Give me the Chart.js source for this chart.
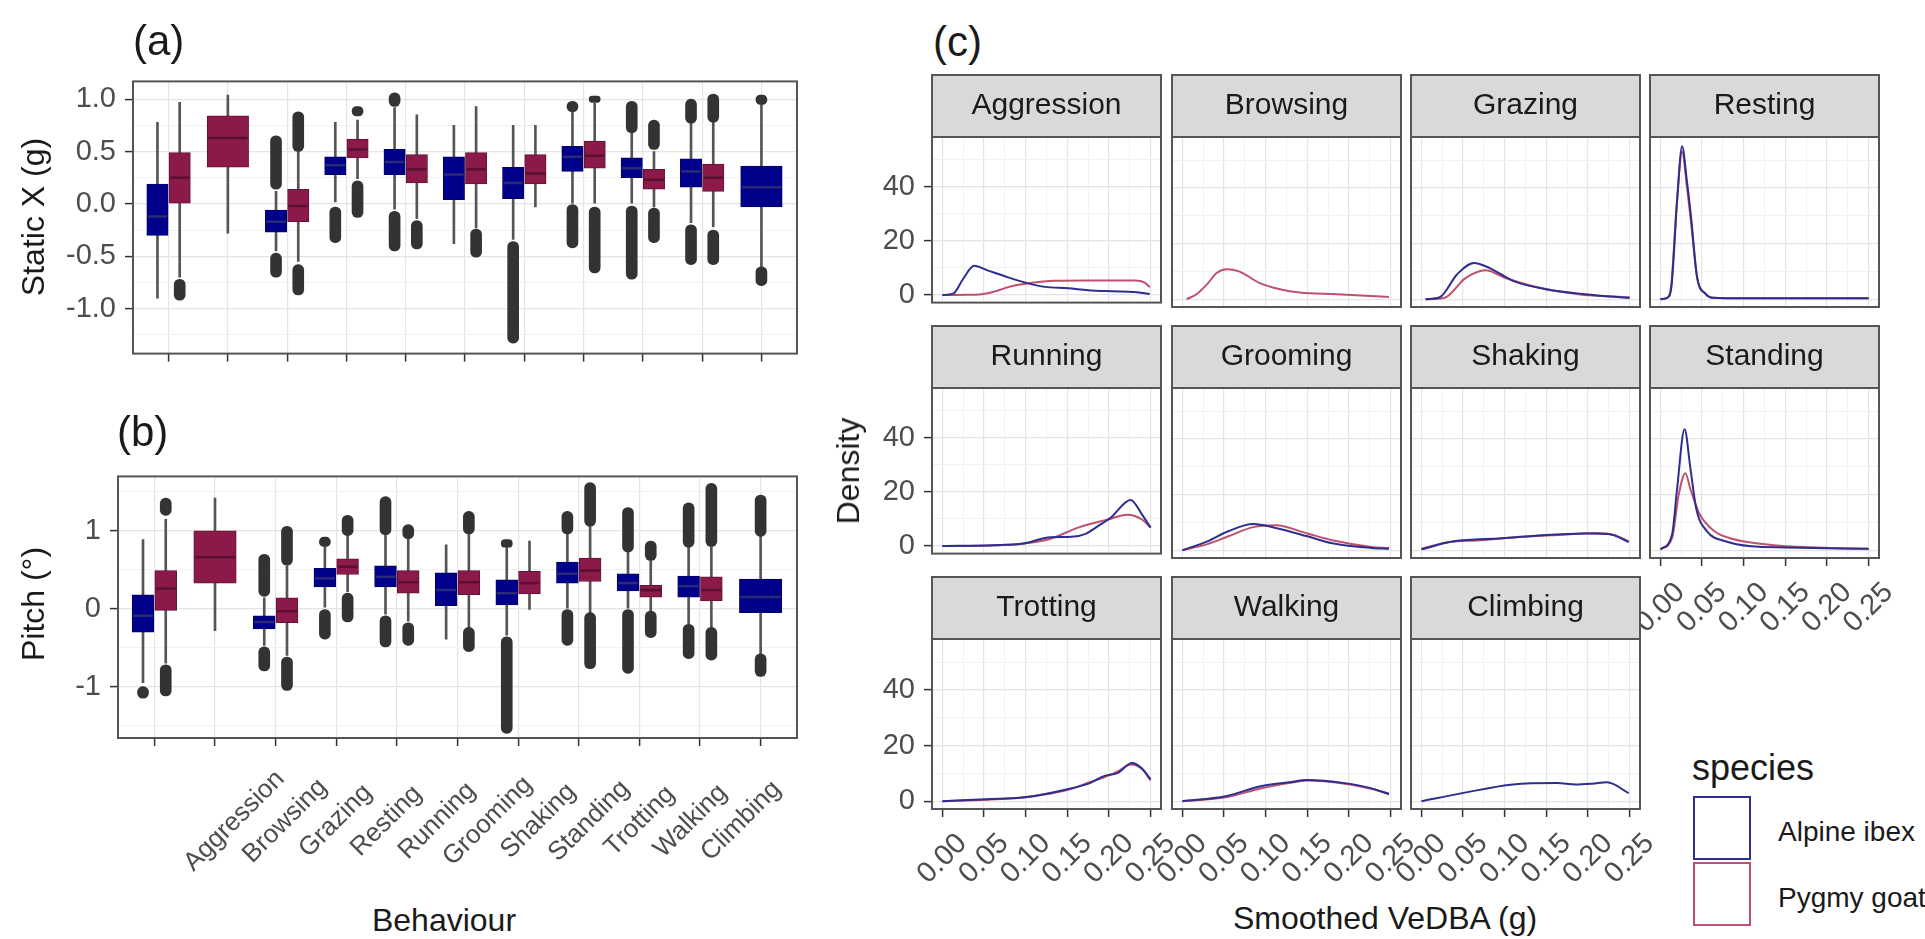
<!DOCTYPE html>
<html>
<head>
<meta charset="utf-8">
<script src="https://cdn.jsdelivr.net/npm/chart.js@4.4.1/dist/chart.umd.min.js"></script>
<style>
  body { margin: 0; background: #fff; }
  #fig { position: relative; width: 1925px; height: 939px; overflow: hidden; font-family: "Liberation Sans", Arial, sans-serif; }
  #fig canvas { position: absolute; }
  .t { position: absolute; white-space: nowrap; line-height: 1; color: #1a1a1a; }
</style>
</head>
<body>
<div id="fig"></div>
<script>
const behaviours = ["Aggression", "Browsing", "Grazing", "Resting", "Running", "Grooming",
  "Shaking", "Standing", "Trotting", "Walking", "Climbing"];
const species = ["Alpine ibex", "Pygmy goat"];

// (a) Static X (g): [lower whisker, q1, median, q3, upper whisker], null = not recorded
const staticIbex = [[-0.90, -0.30, -0.12, 0.19, 0.78], null, [-0.45, -0.27, -0.17, -0.06, 0.12],
  [0.02, 0.28, 0.37, 0.45, 0.78], [-0.05, 0.28, 0.40, 0.52, 0.92], [-0.38, 0.04, 0.28, 0.45, 0.75],
  [-0.34, 0.05, 0.20, 0.35, 0.75], [0.00, 0.31, 0.45, 0.55, 0.88], [0.00, 0.25, 0.34, 0.44, 0.68],
  [-0.18, 0.16, 0.31, 0.43, 0.77], [-0.60, -0.03, 0.16, 0.36, 0.96]];
const staticGoat = [[-0.70, 0.00, 0.25, 0.49, 0.97], [-0.28, 0.35, 0.63, 0.84, 1.04],
  [-0.55, -0.17, -0.02, 0.14, 0.50], [0.24, 0.44, 0.52, 0.62, 0.80], [-0.14, 0.20, 0.33, 0.47, 0.85],
  [-0.23, 0.19, 0.33, 0.49, 0.93], [-0.03, 0.19, 0.29, 0.47, 0.75], [0.00, 0.34, 0.46, 0.60, 0.96],
  [-0.03, 0.14, 0.23, 0.33, 0.50], [-0.22, 0.12, 0.25, 0.38, 0.78], null];
// outliers are heavily overplotted, so they are kept as runs [from, to]
const staticIbexOut = [[], [], [[-0.70, -0.47], [0.14, 0.65]], [[-0.37, -0.03]], [[0.93, 1.06], [-0.45, -0.07]],
  [], [[-1.33, -0.36]], [[0.88, 0.98], [-0.42, 0.00]], [[0.68, 0.98], [-0.72, -0.02]],
  [[0.77, 1.00], [-0.58, -0.20]], [[0.95, 1.04], [-0.78, -0.60]]];
const staticGoatOut = [[[-0.92, -0.72]], [], [[0.50, 0.88], [-0.87, -0.58]], [[0.84, 0.93], [-0.13, 0.22]],
  [[-0.43, -0.16]], [[-0.51, -0.24]], [], [[0.97, 1.03], [-0.66, -0.03]], [[0.52, 0.80], [-0.37, -0.04]],
  [[0.78, 1.05], [-0.58, -0.25]], []];

// (b) Pitch
const pitchIbex = [[-0.95, -0.30, -0.09, 0.18, 0.89], null, [-0.47, -0.26, -0.17, -0.09, 0.14],
  [0.02, 0.28, 0.39, 0.52, 0.80], [-0.07, 0.28, 0.41, 0.55, 0.95], [-0.39, 0.04, 0.24, 0.46, 0.82],
  [-0.34, 0.05, 0.20, 0.37, 0.79], [0.00, 0.33, 0.45, 0.60, 0.96], [0.00, 0.23, 0.33, 0.45, 0.73],
  [-0.20, 0.15, 0.29, 0.42, 0.79], [-0.58, -0.05, 0.15, 0.38, 0.93]];
const pitchGoat = [[-0.70, -0.02, 0.26, 0.49, 1.15], [-0.28, 0.33, 0.66, 1.00, 1.42],
  [-0.60, -0.18, -0.03, 0.14, 0.55], [0.22, 0.44, 0.54, 0.64, 0.95], [-0.16, 0.20, 0.34, 0.49, 0.90],
  [-0.24, 0.18, 0.34, 0.49, 0.96], [-0.01, 0.19, 0.33, 0.48, 0.87], [-0.05, 0.35, 0.49, 0.65, 1.06],
  [-0.03, 0.15, 0.24, 0.30, 0.62], [-0.24, 0.10, 0.24, 0.41, 0.80], null];
const pitchIbexOut = [[[-1.15, -1.00]], [], [[0.16, 0.70], [-0.80, -0.49]], [[0.80, 0.92], [-0.39, -0.01]],
  [[0.95, 1.44], [-0.49, -0.09]], [], [[0.79, 0.89], [-1.60, -0.36]], [[0.96, 1.25], [-0.47, -0.01]],
  [[0.73, 1.30], [-0.83, -0.01]], [[0.79, 1.36], [-0.64, -0.20]], [[0.93, 1.46], [-0.87, -0.58]]];
const pitchGoatOut = [[[1.20, 1.42], [-1.12, -0.72]], [], [[0.56, 1.06], [-1.05, -0.62]], [[0.94, 1.20], [-0.17, 0.20]],
  [[0.90, 1.08], [-0.47, -0.18]], [[0.96, 1.25], [-0.55, -0.24]], [], [[1.06, 1.62], [-0.77, -0.05]],
  [[0.62, 0.87], [-0.37, -0.03]], [[0.80, 1.61], [-0.66, -0.24]], []];

const staticTicks = [-1, -0.5, 0, 0.5, 1];
const pitchTicks = [-1, 0, 1];
const densityTicks = [0, 20, 40];
const vedbaTicks = [0, 0.05, 0.1, 0.15, 0.2, 0.25];

// (c) density of smoothed VeDBA, [VeDBA, density]
const aggressionIbex = [[0, 0], [0.013, 0.5], [0.025, 6], [0.038, 10.8], [0.055, 9], [0.079, 6.5], [0.103, 4.3],
  [0.123, 3], [0.151, 2.5], [0.175, 1.8], [0.203, 1.4], [0.231, 1.1], [0.249, 0.4]];
const aggressionGoat = [[0, 0], [0.03, 0.1], [0.047, 0.3], [0.065, 1.5], [0.079, 2.9], [0.103, 4.3], [0.135, 5.3],
  [0.175, 5.4], [0.231, 5.4], [0.243, 4.6], [0.249, 2.9]];
const browsingGoat = [[0.005, 0], [0.017, 1.8], [0.03, 5.5], [0.041, 9.4], [0.053, 10.8], [0.068, 10], [0.093, 5.8],
  [0.117, 3.6], [0.141, 2.4], [0.185, 1.8], [0.22, 1.2], [0.248, 0.8]];
const grazingIbex = [[0.005, 0], [0.022, 0.7], [0.043, 9], [0.063, 13], [0.082, 11.2], [0.111, 6.5], [0.149, 3.6],
  [0.197, 1.8], [0.25, 0.4]];
const grazingGoat = [[0.005, 0], [0.027, 0.4], [0.053, 7.6], [0.077, 10.4], [0.101, 7.6], [0.139, 4.3], [0.188, 1.8],
  [0.25, 0.7]];
const restingIbex = [[0, 0], [0.008, 0.5], [0.013, 4], [0.02, 35], [0.026, 55], [0.032, 42], [0.037, 29], [0.044, 8],
  [0.054, 2], [0.063, 0.5], [0.1, 0.3], [0.25, 0.3]];
const restingGoat = [[0, 0], [0.008, 0.5], [0.013, 5], [0.02, 36], [0.026, 53], [0.032, 40], [0.037, 27], [0.044, 8],
  [0.054, 2], [0.063, 0.5], [0.1, 0.3], [0.25, 0.3]];
const runningIbex = [[0, 0], [0.06, 0.3], [0.095, 0.8], [0.13, 3.2], [0.155, 3.4], [0.172, 4.5], [0.185, 7],
  [0.202, 10.4], [0.226, 17], [0.24, 11.5], [0.25, 6.8]];
const runningGoat = [[0, 0], [0.06, 0.2], [0.095, 0.8], [0.13, 2.7], [0.163, 6.8], [0.198, 9.7], [0.222, 11.5],
  [0.24, 9.7], [0.25, 6.8]];
const groomingIbex = [[0, 0], [0.03, 3.2], [0.055, 6.8], [0.085, 9.4], [0.112, 8], [0.15, 5], [0.18, 2.5],
  [0.227, 0.8], [0.248, 0.5]];
const groomingGoat = [[0, 0], [0.03, 2.2], [0.055, 5], [0.085, 8.3], [0.112, 9], [0.15, 6], [0.18, 3.6],
  [0.227, 1.2], [0.248, 0.8]];
const shakingIbex = [[0, 0.3], [0.039, 3.2], [0.097, 4.3], [0.145, 5.4], [0.198, 6], [0.225, 5.8], [0.249, 2.9]];
const shakingGoat = [[0, 0.5], [0.03, 2.8], [0.07, 3.6], [0.12, 4.8], [0.17, 5.6], [0.21, 6.2], [0.232, 5.4],
  [0.249, 3.2]];
const standingIbex = [[0, 0.3], [0.014, 5.6], [0.02, 22], [0.029, 43.5], [0.036, 29.5], [0.043, 15], [0.056, 6.8],
  [0.078, 3.2], [0.109, 1.4], [0.15, 1], [0.25, 0.5]];
const standingGoat = [[0, 0.3], [0.014, 4.4], [0.022, 20], [0.03, 27.7], [0.036, 22], [0.047, 13], [0.065, 6.8],
  [0.087, 4], [0.123, 2.2], [0.15, 1.4], [0.25, 0.5]];
const trottingIbex = [[0, 0], [0.052, 0.7], [0.1, 1.4], [0.15, 4.3], [0.177, 6.5], [0.194, 9], [0.21, 10.1],
  [0.228, 13.7], [0.239, 11.9], [0.25, 7.9]];
const trottingGoat = [[0, 0], [0.052, 0.5], [0.1, 1.5], [0.15, 4], [0.177, 6.8], [0.194, 8.6], [0.21, 10.6],
  [0.226, 13.2], [0.24, 11.5], [0.25, 7.5]];
const walkingIbex = [[0, 0], [0.052, 1.8], [0.094, 5.4], [0.128, 6.8], [0.15, 7.6], [0.195, 6.5], [0.225, 4.8],
  [0.248, 2.5]];
const walkingGoat = [[0, 0], [0.052, 1.4], [0.094, 4.6], [0.128, 6.5], [0.15, 7.4], [0.195, 6.3], [0.225, 4.6],
  [0.248, 2.8]];
const climbingIbex = [[0, 0], [0.049, 2.9], [0.11, 6], [0.163, 6.5], [0.185, 6], [0.205, 6.3], [0.223, 6.8],
  [0.249, 2.9]];

const facetSeries = [
  [aggressionIbex, aggressionGoat], [null, browsingGoat], [grazingIbex, grazingGoat], [restingIbex, restingGoat],
  [runningIbex, runningGoat], [groomingIbex, groomingGoat], [shakingIbex, shakingGoat], [standingIbex, standingGoat],
  [trottingIbex, trottingGoat], [walkingIbex, walkingGoat], [climbingIbex, null]];

const FONT = '"Liberation Sans", Arial, sans-serif';
const LINE = ["#2e2e8f", "#c0506e"];
const BOX = ["#00008b", "#8b1a4a"];
const BOX_EDGE = ["#000066", "#641236"];
const MEDIAN = ["#2b2b75", "#5a0f2e"];
const TICK_TXT = "#4d4d4d";

Chart.defaults.font.family = FONT;
const fig = document.getElementById("fig");

function txt(text, x, y, size, opts = {}) {
  const d = document.createElement("div");
  d.className = "t";
  d.textContent = text;
  d.style.left = x + "px";
  d.style.top = y + "px";
  d.style.fontSize = size + "px";
  if (opts.color) d.style.color = opts.color;
  const tx = opts.left ? "0" : "-50%";
  d.style.transform = `translate(${tx},-50%)` + (opts.rot ? ` rotate(${opts.rot}deg)` : "");
  fig.appendChild(d);
}

function canvasFor(area, m) {
  const c = document.createElement("canvas");
  const w = area.r - area.l + m.l + m.r, h = area.b - area.t + m.t + m.b;
  c.width = w; c.height = h;
  c.style.left = (area.l - m.l) + "px";
  c.style.top = (area.t - m.t) + "px";
  c.style.width = w + "px";
  c.style.height = h + "px";
  fig.appendChild(c);
  return c;
}

// axis with fixed size, majors labelled, minors as faint grid only
function axis(o) {
  const all = o.majors.concat(o.minors).sort((a, b) => a - b);
  const isMajor = v => o.majors.some(m => Math.abs(m - v) < 1e-9);
  return {
    type: "linear", min: o.min, max: o.max, offset: false,
    afterBuildTicks: s => { s.ticks = all.map(v => ({ value: v })); },
    afterFit: s => { if (s.isHorizontal()) s.height = o.size; else s.width = o.size; },
    grid: {
      offset: false,
      color: c => isMajor(c.tick.value) ? "#e4e4e4" : "#f2f2f2",
      lineWidth: c => isMajor(c.tick.value) ? 1.2 : 1,
      drawTicks: !!o.ticks, tickLength: 8, tickWidth: 1.5,
      tickColor: c => isMajor(c.tick.value) ? "#333" : "rgba(0,0,0,0)"
    },
    border: { display: false },
    ticks: {
      display: !!o.labels, autoSkip: false, maxRotation: 0, minRotation: 0, padding: 9,
      color: TICK_TXT, font: { size: 29 },
      callback: v => isMajor(v) ? o.fmt(v) : ""
    }
  };
}

const frame = {
  id: "frame",
  afterDraw(chart) {
    const { ctx, chartArea: a } = chart;
    ctx.save();
    ctx.strokeStyle = "#555"; ctx.lineWidth = 2;
    ctx.strokeRect(a.left, a.top, a.right - a.left, a.bottom - a.top);
    ctx.restore();
  }
};

// 45° labels centred under a point; spread < 1 packs them closer than the ticks
function rotatedLabels(values, fmt, dy, size, shift = 0, spread = 1) {
  return {
    id: "rotlab",
    afterDraw(chart) {
      const { ctx, chartArea: a, scales: { x } } = chart;
      const x0 = x.getPixelForValue(values[0]);
      ctx.save();
      ctx.font = `${size}px ${FONT}`;
      ctx.fillStyle = TICK_TXT;
      ctx.textAlign = "center"; ctx.textBaseline = "middle";
      values.forEach((v, i) => {
        ctx.save();
        ctx.translate(x0 + shift + (x.getPixelForValue(v) - x0) * spread, a.bottom + dy);
        ctx.rotate(-Math.PI / 4);
        ctx.fillText(fmt(v, i), 0, 0);
        ctx.restore();
      });
      ctx.restore();
    }
  };
}

function boxChart(area, ibex, goat, ibexOut, goatOut, yOpt, withLabels) {
  const ppu = (area.r - area.l) / 11.2;
  const narrow = [], wide = [], whisk = [], outs = [], meds = [];
  behaviours.forEach((b, i) => {
    const both = ibex[i] && goat[i];
    [ibex, goat].forEach((st, s) => {
      if (!st[i]) return;
      const x = i + 1 + (both ? (s ? 0.1875 : -0.1875) : 0);
      (both ? narrow : wide).push({ x, y: [st[i][1], st[i][3]], s });
      whisk.push({ x, y: [st[i][0], st[i][4]] });
      [ibexOut, goatOut][s][i].forEach(r => outs.push({ x, y: r }));
      meds.push({ x, v: st[i][2], w: both ? 0.36 : 0.7, s });
    });
  });
  const boxSet = (data, w) => ({
    data, order: 0, barThickness: w * ppu,
    backgroundColor: c => BOX[c.raw.s], borderColor: c => BOX_EDGE[c.raw.s], borderWidth: 1, borderSkipped: false
  });
  const medians = {
    id: "medians",
    afterDatasetsDraw(chart) {
      const { ctx, scales: { x, y } } = chart;
      ctx.save();
      ctx.lineWidth = 2.5;
      meds.forEach(m => {
        const py = y.getPixelForValue(m.v);
        ctx.strokeStyle = MEDIAN[m.s];
        ctx.beginPath();
        ctx.moveTo(x.getPixelForValue(m.x - m.w / 2) + 1, py);
        ctx.lineTo(x.getPixelForValue(m.x + m.w / 2) - 1, py);
        ctx.stroke();
      });
      ctx.restore();
    }
  };
  const m = { l: area.l, t: 20, r: 10, b: withLabels ? 150 : 20 };
  const plugins = [frame, medians];
  if (withLabels) {
    plugins.push(rotatedLabels(behaviours.map((b, i) => i + 1), (v, i) => behaviours[i], 83, 26, 80, 0.836));
  }
  new Chart(canvasFor(area, m), {
    type: "bar",
    data: {
      datasets: [
        { data: whisk, order: 2, barThickness: 2, backgroundColor: "#555" },
        { data: outs, order: 1, barThickness: 11, backgroundColor: "#333", borderRadius: 6, borderSkipped: false },
        boxSet(narrow, 0.36),
        boxSet(wide, 0.7)
      ]
    },
    options: {
      responsive: false, animation: false, devicePixelRatio: 1, events: [],
      layout: { padding: { left: area.l - 80, top: m.t, right: m.r, bottom: m.b - 10 } },
      plugins: { legend: { display: false }, tooltip: { enabled: false } },
      datasets: { bar: { grouped: false } },
      scales: {
        x: axis({ min: 0.4, max: 11.6, majors: behaviours.map((b, i) => i + 1), minors: [], size: 10, ticks: true,
          labels: false, fmt: String }),
        y: axis(Object.assign({ size: 80, ticks: true, labels: true }, yOpt))
      }
    },
    plugins
  });
}

boxChart({ l: 133, t: 75, r: 797, b: 360 }, staticIbex, staticGoat, staticIbexOut, staticGoatOut,
  { min: -1.43, max: 1.17, majors: staticTicks, minors: [-1.25, -0.75, -0.25, 0.25, 0.75], fmt: v => v.toFixed(1) }, false);
boxChart({ l: 118, t: 470, r: 797, b: 738 }, pitchIbex, pitchGoat, pitchIbexOut, pitchGoatOut,
  { min: -1.66, max: 1.70, majors: pitchTicks, minors: [-1.5, -0.5, 0.5, 1.5], fmt: String }, true);

// (c) facets
const colLeft = [932, 1172, 1411, 1650];
const rowTop = [137, 388, 639];
facetSeries.forEach((pair, k) => {
  const col = k % 4, row = Math.floor(k / 4);
  const area = { l: colLeft[col], r: colLeft[col] + 229, t: rowTop[row], b: rowTop[row] + 170 };
  const yAxis = col === 0;
  const xLab = row === 2 || (row === 1 && col === 3);
  const m = { l: yAxis ? 70 : (xLab ? 40 : 4), t: 70, r: xLab ? 40 : 4, b: xLab ? 90 : 22 };
  const strip = {
    id: "strip",
    afterDraw(chart) {
      const { ctx, chartArea: a } = chart;
      ctx.save();
      ctx.fillStyle = "#d9d9d9";
      ctx.fillRect(a.left, a.top - 62, a.right - a.left, 62);
      ctx.strokeStyle = "#555"; ctx.lineWidth = 2;
      ctx.strokeRect(a.left, a.top - 62, a.right - a.left, 62);
      ctx.fillStyle = "#1a1a1a";
      ctx.font = `30px ${FONT}`;
      ctx.textAlign = "center"; ctx.textBaseline = "middle";
      ctx.fillText(behaviours[k], (a.left + a.right) / 2, a.top - 31);
      ctx.restore();
    }
  };
  const plugins = [frame, strip];
  if (xLab) plugins.push(rotatedLabels(vedbaTicks, v => v.toFixed(2), 50, 29));
  const datasets = [];
  pair.forEach((pts, s) => {
    if (!pts) return;
    datasets.push({
      label: species[s], data: pts.map(([x, y]) => ({ x, y })), order: s,
      borderColor: LINE[s], borderWidth: 2, pointRadius: 0, fill: false, cubicInterpolationMode: "monotone"
    });
  });
  new Chart(canvasFor(area, m), {
    type: "line",
    data: { datasets },
    options: {
      responsive: false, animation: false, devicePixelRatio: 1, events: [],
      layout: { padding: { left: m.l - (yAxis ? 65 : 0), top: m.t, right: m.r, bottom: m.b - (xLab ? 10 : 0) } },
      plugins: { legend: { display: false }, tooltip: { enabled: false } },
      scales: {
        x: axis({ min: -0.0125, max: 0.2625, majors: vedbaTicks, minors: [0.025, 0.075, 0.125, 0.175, 0.225],
          size: xLab ? 10 : 0, ticks: xLab, labels: false, fmt: v => v.toFixed(2) }),
        y: axis({ min: -2.8, max: 58.3, majors: densityTicks, minors: [10, 30, 50], size: yAxis ? 65 : 0,
          ticks: yAxis, labels: yAxis, fmt: String })
      }
    },
    plugins
  });
});

// titles and panel letters
txt("(a)", 133, 41, 42, { left: true });
txt("(b)", 117, 432, 42, { left: true });
txt("(c)", 933, 42, 42, { left: true });
txt("Static X (g)", 33, 217, 32, { rot: -90 });
txt("Pitch (°)", 33, 604, 32, { rot: -90 });
txt("Behaviour", 444, 920, 32);
txt("Density", 848, 471, 32, { rot: -90 });
txt("Smoothed VeDBA (g)", 1385, 918, 32);

// legend
txt("species", 1692, 768, 36, { left: true });
species.forEach((name, s) => {
  const key = document.createElement("div");
  key.style.cssText = `position:absolute;left:1693px;top:${796 + s * 66}px;width:58px;height:64px;` +
    `box-sizing:border-box;border:2px solid ${LINE[s]};background:#fff;`;
  fig.appendChild(key);
  txt(name, 1778, 832 + s * 66, 28, { left: true });
});
</script>
</body>
</html>
